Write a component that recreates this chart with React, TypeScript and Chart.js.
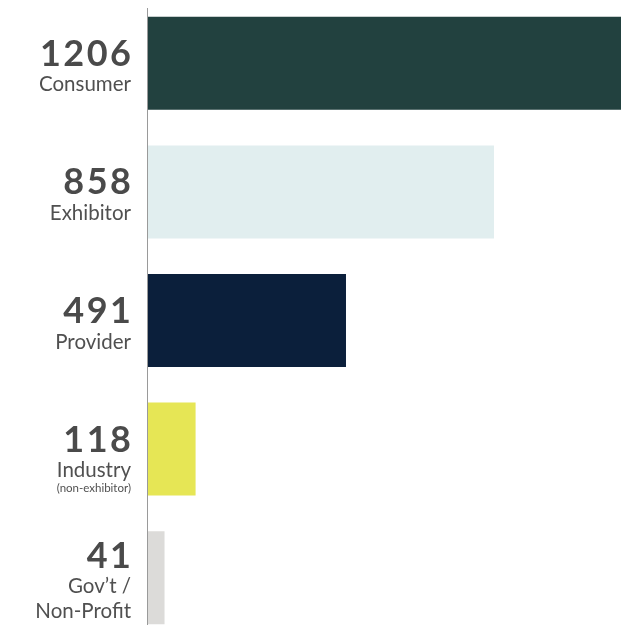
import React, { useEffect, useRef } from "react";
import { Chart, registerables } from "chart.js";

Chart.register(...registerables);

const categories = ["Consumer", "Exhibitor", "Provider", "Industry", "Gov't / Non-Profit"];
const nameLines: string[][] = [["Consumer"], ["Exhibitor"], ["Provider"], ["Industry"], ["Gov\u2019t /", "Non-Profit"]];
const subLabels = ["", "", "", "(non-exhibitor)", ""];
const values = [1206, 858, 491, 118, 41];
const barColors = ["#22413f", "#e1eeef", "#0b1f3b", "#e6e655", "#dcdbd9"];

const labelPlugin = {
  id: "leftLabels",
  afterDraw(chart: any) {
    const ctx = chart.ctx as CanvasRenderingContext2D;
    const y = chart.scales.y;
    const area = chart.chartArea;
    ctx.save();
    ctx.strokeStyle = "#9a9a9a";
    ctx.lineWidth = 1;
    ctx.beginPath();
    ctx.moveTo(area.left - 0.5, 9);
    ctx.lineTo(area.left - 0.5, chart.height);
    ctx.stroke();
    const right = area.left - 17;
    ctx.textAlign = "right";
    ctx.textBaseline = "alphabetic";
    values.forEach((v, i) => {
      const cy = y.getPixelForValue(i);
      const lines = nameLines[i];
      const numBase = cy + 2.5 - 12.5 * (lines.length - 1);
      ctx.fillStyle = "#4a4a4a";
      ctx.font = "bold 36px Lato";
      (ctx as any).letterSpacing = "2.5px";
      ctx.fillText(String(v), right + 2.5, numBase);
      (ctx as any).letterSpacing = "0px";
      ctx.fillStyle = "#505050";
      ctx.font = "400 20.5px Lato";
      const base = numBase + 25.5;
      lines.forEach((ln, k) => {
        ctx.fillText(ln, right, base + k * 25);
      });
      if (subLabels[i]) {
        ctx.font = "400 11.5px Lato";
        ctx.fillText(subLabels[i], right, base + (lines.length - 1) * 25 + 14.5);
      }
    });
    ctx.restore();
  },
};

export default function App() {
  const ref = useRef<HTMLCanvasElement | null>(null);
  useEffect(() => {
    if (!ref.current) return;
    const chart = new Chart(ref.current, {
      type: "bar",
      data: {
        labels: categories,
        datasets: [
          {
            data: values,
            backgroundColor: barColors,
            borderWidth: 0,
            barPercentage: 0.723,
            categoryPercentage: 1,
          },
        ],
      },
      options: {
        indexAxis: "y",
        responsive: false,
        animation: false,
        layout: { padding: { left: 148, right: 0, top: 0, bottom: 0 } },
        plugins: { legend: { display: false }, tooltip: { enabled: false } },
        scales: {
          x: { display: false, min: 0, max: 1173 },
          y: { display: false },
        },
      },
      plugins: [labelPlugin],
    });
    return () => chart.destroy();
  }, []);
  return (
    <div style={{ position: "fixed", left: 0, top: 0, width: 621, height: 625, overflow: "hidden", background: "#fff" }}>
      <canvas ref={ref} width={621} height={643} style={{ position: "absolute", left: 0, top: -1, width: 621, height: 643 }} />
    </div>
  );
}
